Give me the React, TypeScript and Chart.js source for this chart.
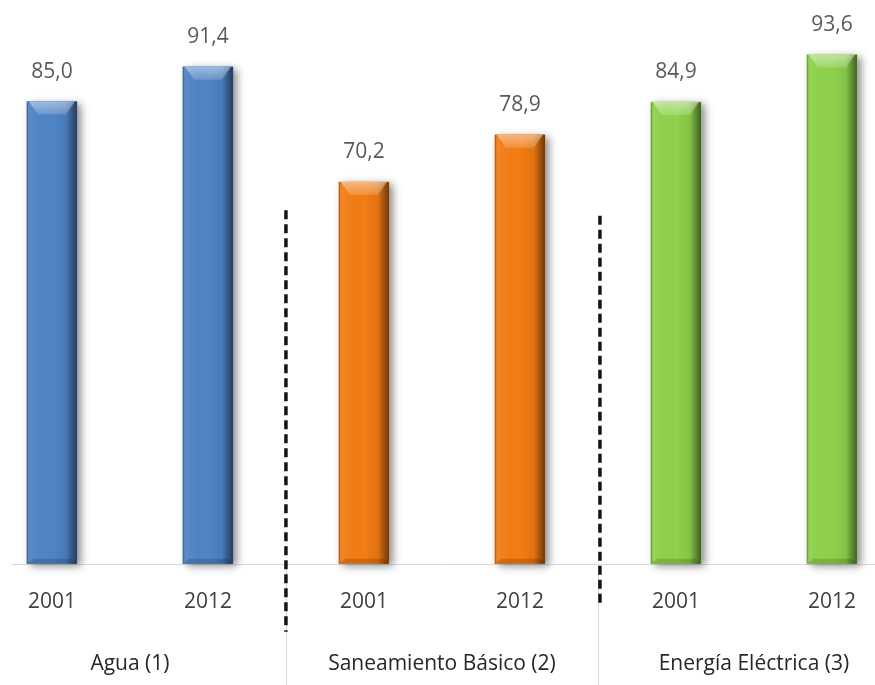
import React, { useEffect, useRef } from "react";
import { Chart, registerables } from "chart.js";

Chart.register(...registerables);

const groups = ["Agua (1)", "Saneamiento Básico (2)", "Energía Eléctrica (3)"];
const years = ["2001", "2012", "2001", "2012", "2001", "2012"];
const values = [85.0, 91.4, 70.2, 78.9, 84.9, 93.6];
const barColors = ["#4f84c6", "#4f84c6", "#f47c14", "#f47c14", "#8fd24c", "#8fd24c"];

const FONT = "'Open Sans', 'DejaVu Sans', sans-serif";
const fmt = (v: number) => v.toFixed(1).replace(".", ",");

const decor = {
  id: "decor",
  beforeDatasetsDraw(chart: any) {
    const ctx = chart.ctx;
    const meta = chart.getDatasetMeta(0);
    ctx.save();
    ctx.strokeStyle = "#d9d9d9";
    ctx.lineWidth = 1;
    const by = Math.round(chart.chartArea.bottom) + 0.5;
    ctx.beginPath();
    ctx.moveTo(chart.chartArea.left, by);
    ctx.lineTo(chart.width, by);
    ctx.stroke();
    ctx.restore();
    meta.data.forEach((el: any, i: number) => {
      const { x, y, base, width } = el.getProps(["x", "y", "base", "width"], true);
      ctx.save();
      ctx.shadowColor = "rgba(0,0,0,0.45)";
      ctx.shadowBlur = 8;
      ctx.shadowOffsetX = 4;
      ctx.shadowOffsetY = 2;
      ctx.fillStyle = barColors[i];
      ctx.fillRect(x - width / 2, y, width, base - y);
      ctx.restore();
    });
  },
  afterDatasetsDraw(chart: any) {
    const ctx = chart.ctx;
    const meta = chart.getDatasetMeta(0);
    meta.data.forEach((el: any, i: number) => {
      const { x, y, base, width } = el.getProps(["x", "y", "base", "width"], true);
      const L = x - width / 2;
      const R = x + width / 2;
      ctx.save();
      const g = ctx.createLinearGradient(L, 0, R, 0);
      g.addColorStop(0, "rgba(0,0,0,0.35)");
      g.addColorStop(0.06, "rgba(255,255,255,0.06)");
      g.addColorStop(0.5, "rgba(0,0,0,0)");
      g.addColorStop(0.78, "rgba(0,0,0,0.08)");
      g.addColorStop(1, "rgba(0,0,0,0.55)");
      ctx.fillStyle = g;
      ctx.fillRect(L, y, width, base - y);
      const bh = 13;
      const bg = ctx.createLinearGradient(0, y, 0, y + bh);
      bg.addColorStop(0, "rgba(255,255,255,0.45)");
      bg.addColorStop(1, "rgba(255,255,255,0.15)");
      ctx.fillStyle = bg;
      ctx.beginPath();
      ctx.moveTo(L + 2, y);
      ctx.lineTo(R - 2, y);
      ctx.lineTo(R - 11, y + bh);
      ctx.lineTo(L + 11, y + bh);
      ctx.closePath();
      ctx.fill();
      ctx.fillStyle = "rgba(0,0,0,0.15)";
      ctx.beginPath();
      ctx.moveTo(L, base);
      ctx.lineTo(R, base);
      ctx.lineTo(R - 6, base - 5);
      ctx.lineTo(L + 6, base - 5);
      ctx.closePath();
      ctx.fill();
      ctx.fillStyle = "#595959";
      ctx.font = `21px ${FONT}`;
      ctx.textAlign = "center";
      ctx.textBaseline = "middle";
      ctx.fillText(fmt(values[i]), x, y - 30);
      ctx.restore();
    });
  },
  afterDraw(chart: any) {
    const ctx = chart.ctx;
    const xs = chart.scales.x;
    const ys = chart.scales.y;
    const bottom = chart.chartArea.bottom;
    const H = chart.height;
    ctx.save();
    ctx.strokeStyle = "#d9d9d9";
    ctx.lineWidth = 1;
    [1.5, 3.5].forEach((v) => {
      const px = Math.round(xs.getPixelForValue(v)) + 0.5;
      ctx.beginPath();
      ctx.moveTo(px, bottom);
      ctx.lineTo(px, H);
      ctx.stroke();
    });
    ctx.strokeStyle = "#141414";
    ctx.lineWidth = 3.5;
    ctx.setLineDash([9, 5]);
    const dashes = [
      { v: 1.5, dx: 0, top: 65, extra: 68 },
      { v: 3.5, dx: 2, top: 64, extra: 43 },
    ];
    dashes.forEach((d) => {
      const px = xs.getPixelForValue(d.v) + d.dx;
      ctx.beginPath();
      ctx.moveTo(px, ys.getPixelForValue(d.top));
      ctx.lineTo(px, bottom + d.extra);
      ctx.stroke();
    });
    ctx.setLineDash([]);
    ctx.fillStyle = "#262626";
    ctx.font = `21px ${FONT}`;
    ctx.textAlign = "center";
    ctx.textBaseline = "middle";
    groups.forEach((gname, i) => {
      const cx = (xs.getPixelForValue(2 * i) + xs.getPixelForValue(2 * i + 1)) / 2;
      ctx.fillText(gname, cx, bottom + 100);
    });
    ctx.restore();
  },
};

export default function App() {
  const ref = useRef<HTMLCanvasElement | null>(null);
  useEffect(() => {
    document.body.style.margin = "0";
    const canvas = ref.current;
    if (!canvas) return;
    const chart = new Chart(canvas, {
      type: "bar",
      data: {
        datasets: [
          {
            data: values.map((v, i) => ({ x: i, y: v })),
            backgroundColor: barColors,
            barThickness: 50,
            borderWidth: 0,
          },
        ],
      },
      options: {
        animation: false,
        responsive: false,
        layout: { padding: { left: 12, top: 20, right: 0, bottom: 44 } },
        plugins: { legend: { display: false }, tooltip: { enabled: false } },
        scales: {
          x: {
            type: "linear",
            offset: false,
            min: -0.256,
            max: 5.276,
            grid: { display: false, drawTicks: false, offset: false },
            border: { display: false },
            afterBuildTicks: (scale: any) => {
              scale.ticks = years.map((_, i) => ({ value: i }));
            },
            afterFit: (scale: any) => {
              scale.paddingLeft = 0;
              scale.paddingRight = 0;
            },
            ticks: {
              autoSkip: false,
              maxRotation: 0,
              padding: 26,
              color: "#404040",
              font: { family: FONT, size: 21 },
              callback: (v: any) => years[Number(v)] ?? "",
            },
          },
          y: {
            display: false,
            min: 0,
            max: 100,
          },
        },
      },
      plugins: [decor],
    });
    return () => chart.destroy();
  }, []);
  return (
    <div style={{ width: 875, height: 685 }}>
      <canvas ref={ref} width={875} height={685} style={{ display: "block" }} />
    </div>
  );
}
